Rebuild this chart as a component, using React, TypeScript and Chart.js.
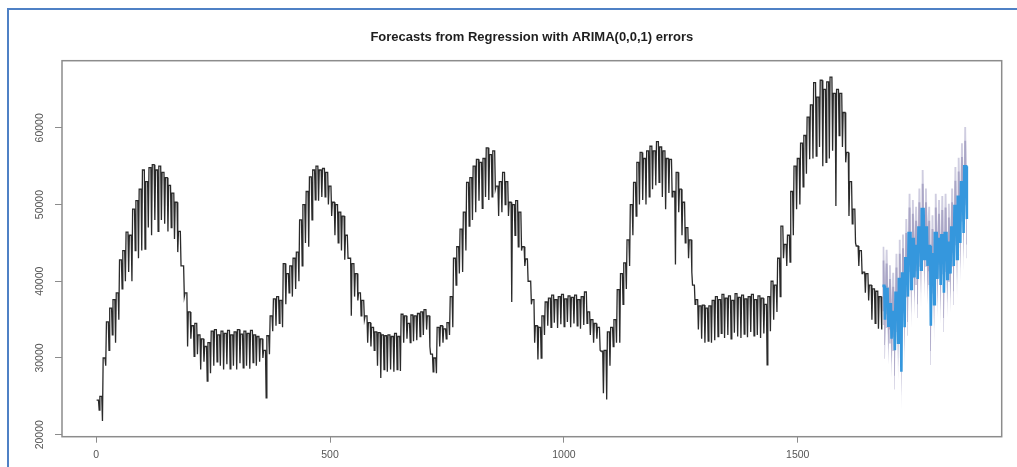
import React, { useEffect, useRef } from "react";
import { Chart, registerables } from "chart.js";

Chart.register(...registerables);

const chartTitle = "Forecasts from Regression with ARIMA(0,0,1) errors";
const xTicks = [0, 500, 1000, 1500];
const yTicks = [20000, 30000, 40000, 50000, 60000];

// history: one weekday level and one weekend level per week, starting at day 1
const histStartDay = 1;
const histHigh = [
  24500, 25000, 30000, 34700, 36500, 37600, 38500, 42800, 44000, 46400,
  46000, 49400, 50500, 52000, 54500, 53000, 54800, 55200, 54500, 55000,
  54200, 53500, 52500, 51500, 50300, 46500, 42000, 38500, 36000, 34200,
  34500, 33000, 32500, 31500, 32000, 33500, 33700, 33000, 33500, 33200,
  33600, 33000, 33400, 33700, 33100, 33500, 33200, 33600, 33000, 32800,
  32500, 31000, 32900, 35500, 37700, 38000, 37500, 42300, 41000, 42000,
  43000, 43800, 48000, 50000, 51700, 53600, 54500, 55000, 54500, 54700,
  54200, 52400, 50300, 50000, 49000, 48500, 46000, 43000, 42300, 41000,
  38500, 37500, 35500, 34600, 34000, 33400, 33300, 33000, 32900, 33000,
  32800, 33200, 32800, 35700, 35500, 34500, 35600, 35500, 35800, 36000,
  36300, 35500, 30500, 30000, 34000, 34200, 33800, 34600, 38000, 43000,
  44500, 46800, 49000, 52900, 53500, 55000, 55900, 55500, 56000, 57400,
  56500, 57000, 52400, 53000, 54200, 53000, 50300, 50000, 50500, 49000,
  44500, 42900, 40000, 37600, 34200, 34000, 35500, 37300, 37800, 38200,
  37600, 38000, 38300, 37700, 38100, 37900, 38200, 37600, 38000, 38600,
  36000, 35000, 34500, 34000, 30900, 31000, 33400, 34000, 35000, 38900,
  41000, 42400, 45400, 50000, 52900, 55500, 56800, 56000, 57000, 57600,
  57000, 58200, 57500, 57000, 56000, 55900, 51700, 54200, 52000, 50300,
  47000, 45400, 39500, 37600, 36800, 36900, 36500, 36800, 37500, 38000,
  37600, 38300, 37800, 38100, 37500, 38400, 37900, 38200, 37700, 38000,
  38300, 37600, 38100, 37800, 37000, 38000, 40000, 39500, 43000, 47200,
  44800, 46000, 51700, 55000, 56000, 58000, 59000, 61400, 63000, 65900,
  64000, 66200, 65000, 66000, 66600, 64500, 65000, 64500, 62000, 56800,
  53000, 49400, 44600, 44000, 41200, 41000, 39500, 39000, 38700, 38000,
];
const histLow = [
  23200, 21800, 29000, 31000, 33000, 32000, 35000, 39000, 40000, 41200,
  40000, 44000, 43000, 44000, 44200, 47000, 46000, 48000, 46500, 48000,
  47500, 46500, 47000, 45500, 43800, 42000, 38000, 31500, 32500, 30200,
  30500, 28500, 29500, 27000, 28000, 29000, 29500, 29000, 28500, 29200,
  28600, 29000, 28500, 29300, 28700, 29000, 28600, 29400, 29000, 29500,
  30000, 24800, 30500, 33500, 34200, 34500, 34000, 37000, 38500, 38000,
  39000, 40000, 42000, 45000, 44500, 48000, 50600, 50500, 51000, 51000,
  50000, 48500, 46000, 45000, 44000, 42800, 43000, 35500, 38000, 37500,
  35500, 35000, 32000, 31500, 31000, 29000, 27400, 28500, 28200, 28500,
  28200, 28500, 28300, 32000, 32500, 32000, 32200, 32300, 32800, 33000,
  33700, 31500, 28200, 28000, 31500, 32000, 32500, 33000, 34000, 39500,
  41000, 41200, 44000, 47200, 48000, 49000, 50500, 49500, 51000, 50600,
  51000, 52000, 48500, 49000, 50000, 48500, 37300, 46000, 44500, 44000,
  42000, 40000, 37000, 32000, 29800, 30000, 33000, 34200, 34000, 34600,
  33900, 34400, 34100, 34700, 34000, 34500, 34200, 33800, 34300, 34500,
  33000, 32000, 32500, 31000, 25400, 24600, 29000, 31500, 32000, 32000,
  37000, 39000, 42000, 46000, 48500, 50000, 50600, 50000, 51000, 52000,
  52500, 52900, 51000, 49400, 51500, 51000, 42200, 49000, 46000, 45000,
  43000, 41200, 37000, 33700, 32500, 32000, 32200, 32000, 32300, 32800,
  33200, 32600, 33000, 32500, 33300, 32800, 32600, 33100, 32700, 33400,
  32900, 33000, 32600, 33200, 29100, 33500, 35000, 36000, 38000, 43000,
  42000, 42500, 46000, 49400, 50000, 52300, 54000, 55900, 56000, 56300,
  57500, 55000, 55500, 56000, 57000, 49800, 59000, 57500, 55500, 48500,
  47500, 45000, 42000, 41000, 38500, 37500, 35000, 34500, 33800, 33700,
];

// forecast: pairs of [weekday, weekend] values per week, starting at day 1681
const fcStartDay = 1681;
const fcMean = [
  39400, 35000, 39000, 34200, 37000, 32500, 36000, 31000, 38500, 32000,
  40300, 28200, 41000, 34000, 43000, 38000, 46300, 39000, 45500, 40500,
  44600, 40300, 47000, 41500, 49400, 42900, 47000, 42000, 44600, 34200,
  43500, 37000, 46300, 40300, 45500, 39500, 46000, 38500, 46300, 40300,
  45000, 41000, 47000, 42000, 49800, 42900, 51000, 45000, 52900, 46300,
  55000, 48100,
];
const fcUpper80 = [
  42700, 38300, 42300, 37500, 40300, 35800, 39300, 34300, 41800, 35300,
  43600, 31500, 44300, 37300, 46300, 41300, 49600, 42300, 48800, 43800,
  47900, 43600, 50300, 44800, 52700, 46200, 50300, 45300, 47900, 37500,
  46800, 40300, 49600, 43600, 48800, 42800, 49300, 41800, 49600, 43600,
  48300, 44300, 50300, 45300, 53100, 46200, 54300, 48300, 56200, 49600,
  58300, 51400,
];
const fcLower80 = [
  36100, 31700, 35700, 30900, 33700, 29200, 32700, 27700, 35200, 28700,
  37000, 24900, 37700, 30700, 39700, 34700, 43000, 35700, 42200, 37200,
  41300, 37000, 43700, 38200, 46100, 39600, 43700, 38700, 41300, 30900,
  40200, 33700, 43000, 37000, 42200, 36200, 42700, 35200, 43000, 37000,
  41700, 37700, 43700, 38700, 46500, 39600, 47700, 41700, 49600, 43000,
  51700, 44800,
];
const fcUpper95 = [
  44500, 40100, 44100, 39300, 42100, 37600, 41100, 36100, 43600, 37100,
  45400, 33300, 46100, 39100, 48100, 43100, 51400, 44100, 50600, 45600,
  49700, 45400, 52100, 46600, 54500, 48000, 52100, 47100, 49700, 39300,
  48600, 42100, 51400, 45400, 50600, 44600, 51100, 43600, 51400, 45400,
  50100, 46100, 52100, 47100, 54900, 48000, 56100, 50100, 58000, 51400,
  60100, 53200,
];
const fcLower95 = [
  34300, 29900, 33900, 29100, 31900, 27400, 30900, 25900, 33400, 26900,
  35200, 23100, 35900, 28900, 37900, 32900, 41200, 33900, 40400, 35400,
  39500, 35200, 41900, 36400, 44300, 37800, 41900, 36900, 39500, 29100,
  38400, 31900, 41200, 35200, 40400, 34400, 40900, 33400, 41200, 35200,
  39900, 35900, 41900, 36900, 44700, 37800, 45900, 39900, 47800, 41200,
  49900, 43000,
];

type Pt = { x: number; y: number };

function weekPoints(start: number, highs: number[], lows: number[]): Pt[] {
  const pts: Pt[] = [];
  for (let k = 0; k < highs.length; k++) {
    const t0 = start + 7 * k;
    pts.push({ x: t0, y: highs[k] });
    pts.push({ x: t0 + 4, y: highs[k] });
    pts.push({ x: t0 + 5.5, y: lows[k] });
  }
  return pts;
}

function pairPoints(start: number, pairs: number[]): Pt[] {
  const highs: number[] = [];
  const lows: number[] = [];
  for (let i = 0; i + 1 < pairs.length; i += 2) {
    highs.push(pairs[i]);
    lows.push(pairs[i + 1]);
  }
  return weekPoints(start, highs, lows);
}

const rPlotPlugin = {
  id: "rPlot",
  afterDraw(chart: any) {
    const { ctx, chartArea: a, scales } = chart;
    ctx.save();
    ctx.strokeStyle = "#8c8c8c";
    ctx.lineWidth = 1.5;
    ctx.strokeRect(a.left, a.top, a.right - a.left, a.bottom - a.top);

    ctx.fillStyle = "#1e1e1e";
    ctx.font = 'bold 13px "Liberation Sans Narrow", "Liberation Sans", Arial, sans-serif';
    ctx.textAlign = "center";
    ctx.textBaseline = "middle";
    ctx.fillText(chartTitle, (a.left + a.right) / 2, 37);

    ctx.fillStyle = "#555555";
    ctx.font = '10.5px "Liberation Sans", Arial, sans-serif';
    for (const v of yTicks) {
      const y = scales.y.getPixelForValue(v);
      ctx.save();
      ctx.translate(40.5, y);
      ctx.rotate(-Math.PI / 2);
      ctx.fillText(String(v), 0, 0);
      ctx.restore();
    }
    ctx.restore();
  },
};

export default function App() {
  const ref = useRef<HTMLCanvasElement | null>(null);

  useEffect(() => {
    if (!ref.current) return;
    const hist = weekPoints(histStartDay, histHigh, histLow);
    const mean = pairPoints(fcStartDay, fcMean);
    const u80 = pairPoints(fcStartDay, fcUpper80);
    const l80 = pairPoints(fcStartDay, fcLower80);
    const u95 = pairPoints(fcStartDay, fcUpper95);
    const l95 = pairPoints(fcStartDay, fcLower95);

    const base = { pointRadius: 0, tension: 0, borderJoinStyle: "miter" as const };

    const chart = new Chart(ref.current, {
      type: "line",
      data: {
        datasets: [
          { ...base, label: "95%", data: u95, borderWidth: 0, borderColor: "rgba(0,0,0,0)", backgroundColor: "#cfcde0", fill: "+1", order: 6 },
          { ...base, label: "95% lo", data: l95, borderWidth: 0, borderColor: "rgba(0,0,0,0)", fill: false, order: 5 },
          { ...base, label: "80%", data: u80, borderWidth: 0, borderColor: "rgba(0,0,0,0)", backgroundColor: "#aaa6c6", fill: "+1", order: 4 },
          { ...base, label: "80% lo", data: l80, borderWidth: 0, borderColor: "rgba(0,0,0,0)", fill: false, order: 3 },
          { ...base, label: "forecast", data: mean, borderWidth: 2.6, borderColor: "#3597dd", fill: false, order: 2 },
          { ...base, label: "history", data: hist, borderWidth: 1.3, borderColor: "#2a2a2a", fill: false, order: 1 },
        ],
      },
      options: {
        responsive: false,
        animation: false,
        events: [],
        devicePixelRatio: 1,
        layout: { padding: { left: 0, right: 15.3, top: 60.7, bottom: 0 } },
        plugins: { legend: { display: false }, tooltip: { enabled: false }, title: { display: false } },
        scales: {
          x: {
            type: "linear",
            min: -73,
            max: 1936,
            afterBuildTicks: (s: any) => {
              s.ticks = xTicks.map((v) => ({ value: v }));
            },
            afterFit: (s: any) => {
              s.height = 30.3;
            },
            border: { display: false },
            grid: { display: true, drawOnChartArea: false, drawTicks: true, tickLength: 6, color: "#8c8c8c", lineWidth: 1 },
            ticks: {
              autoSkip: false,
              maxRotation: 0,
              padding: 6,
              color: "#555555",
              font: { family: '"Liberation Sans", Arial, sans-serif', size: 10.5 },
              callback: (v: any) => String(v),
            },
          },
          y: {
            type: "linear",
            min: 19740,
            max: 68750,
            afterBuildTicks: (s: any) => {
              s.ticks = yTicks.map((v) => ({ value: v }));
            },
            afterFit: (s: any) => {
              s.width = 62;
            },
            border: { display: false },
            grid: { display: true, drawOnChartArea: false, drawTicks: true, tickLength: 7, color: "#8c8c8c", lineWidth: 1 },
            ticks: { display: false },
          },
        },
      },
      plugins: [rPlotPlugin],
    });
    return () => chart.destroy();
  }, []);

  return (
    <div style={{ position: "fixed", left: 0, top: 0, width: 1017, height: 467, background: "#ffffff" }}>
      <canvas ref={ref} width={1017} height={467} style={{ position: "absolute", left: 0, top: 0 }} />
      <div style={{ position: "absolute", left: 7, top: 8, width: 1010, height: 2, background: "#4f81c5" }} />
      <div style={{ position: "absolute", left: 7, top: 8, width: 2, height: 459, background: "#4f81c5" }} />
    </div>
  );
}
